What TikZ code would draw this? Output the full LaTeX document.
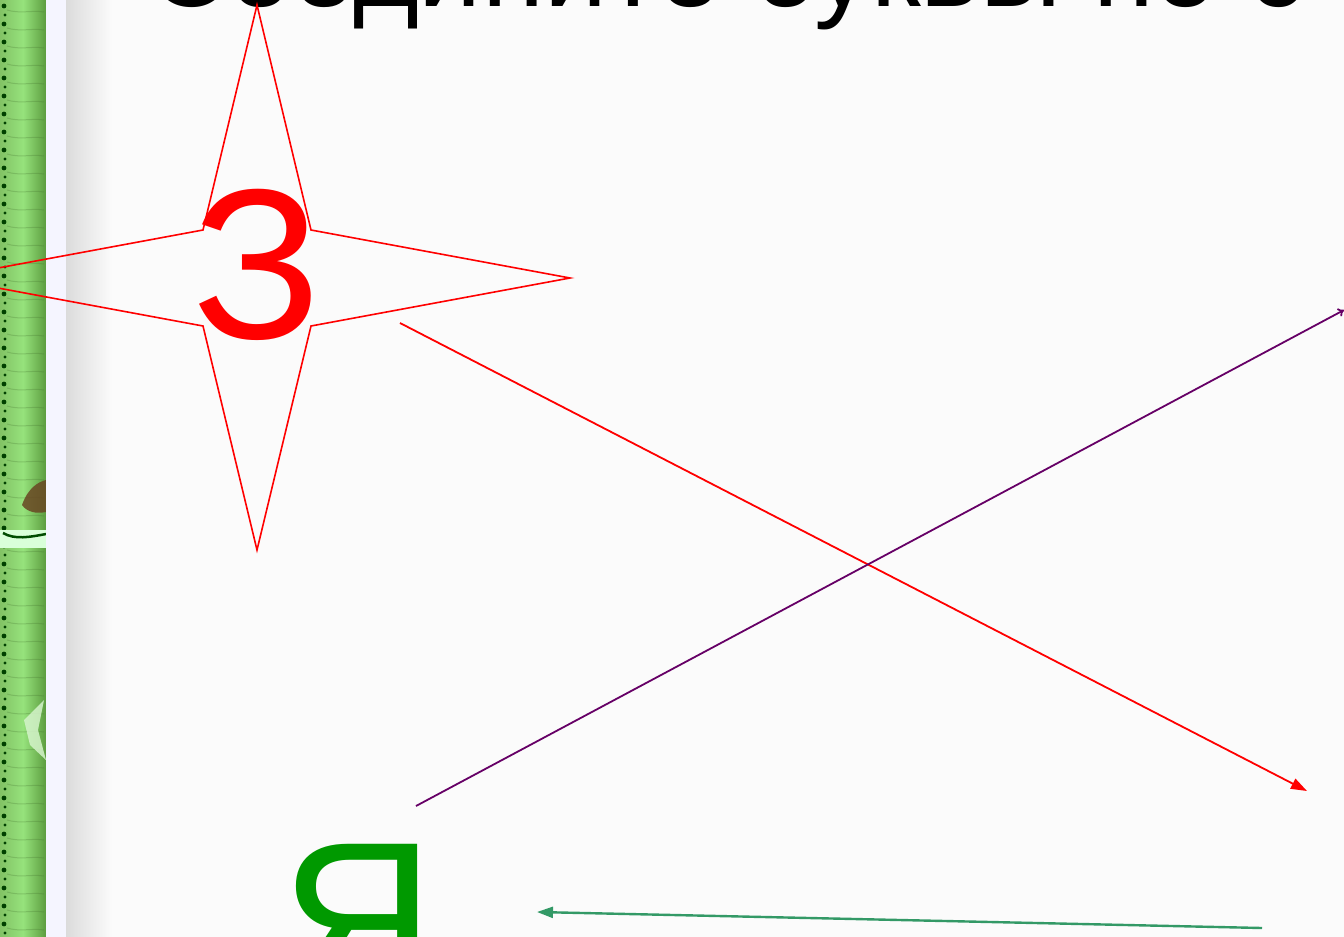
\documentclass[tikz,border=0pt]{standalone}
\usepackage{fontspec}
\setmainfont{Liberation Sans}
\usetikzlibrary{arrows.meta}
\definecolor{bg}{HTML}{FBFBFB}
\definecolor{zered}{HTML}{FF0000}
\definecolor{yagreen}{HTML}{009900}
\definecolor{lpurple}{HTML}{660066}
\definecolor{lgreen}{HTML}{339966}
\definecolor{bamboo}{HTML}{96E27C}
\definecolor{bamboodark}{HTML}{6CB84A}
\tikzset{
  letter/.style={inner sep=0pt, anchor=base, font=\fontsize{214}{214}\selectfont},
  connector/.style={line width=1.8pt},
}
\begin{document}
\begin{tikzpicture}[x=1pt,y=-1pt]
\useasboundingbox (0,0) rectangle (1344,937);
\begin{scope}
\clip (0,0) rectangle (1344,937);
\fill[bg] (0,0) rectangle (1344,937);
% left bamboo strip
\shade[left color=bamboodark!85, right color=bamboodark!85!black, middle color=bamboo, shading angle=90] (0,0) rectangle (46,937);
\foreach \y in {6,24,...,937} {
  \fill[black!75!green] (4,\y) circle (2.4);
  \fill[black!75!green] (5,\y+9) circle (1.6);
  \draw[bamboodark!60!black, opacity=0.25, line width=1pt] (7,\y+4) .. controls (20,\y+8) and (32,\y+4) .. (44,\y+6);
}
\fill[brown!55!black, opacity=0.85] (22,505) .. controls (28,488) and (38,482) .. (46,480) -- (46,512) .. controls (36,514) and (27,512) .. (22,505);
\fill[white!85!green] (0,530) rectangle (46,548);
\draw[black!70!green, line width=2.5pt] (3,533) .. controls (15,540) and (30,537) .. (46,534);
\fill[white!60!bamboo, opacity=0.85] (24,720) -- (44,700) -- (38,730) -- (46,760) -- (30,745) -- cycle;
% white band and grey edge
\fill[white!96!blue] (46,0) rectangle (66,937);
\shade[left color=black!14, right color=bg] (66,0) rectangle (112,937);
% title
\node[inner sep=0pt, anchor=base west, font=\fontsize{113}{113}\selectfont] (title) at (148,6) {Соедините буквы по с};
% star
\draw[zered, line width=1.6pt] (257,5) -- (311,230) -- (570,278) -- (311,326) -- (257,550) -- (203,326) -- (-56,278) -- (203,230) -- cycle;
\node[letter, text=zered] (ze) at (257,338) {З};
\node[letter, text=yagreen] (ya) at (358,991) {Я};
% connectors
\coordinate (r1) at (400,323);
\coordinate (r2) at (1307,791);
\coordinate (p1) at (416,806);
\coordinate (p2) at (1344,310);
\coordinate (g1) at (1262,928);
\coordinate (g2) at (537,912);
\draw[connector, zered, -{Triangle[length=16pt,width=11pt]}] (r1) -- (r2);
\draw[connector, lpurple, -{To[length=6pt,width=9pt]}] (p1) -- (p2);
\draw[line width=2.4pt, lgreen, -{Triangle[length=16pt,width=11pt]}] (g1) -- (g2);
\end{scope}
\end{tikzpicture}
\end{document}
